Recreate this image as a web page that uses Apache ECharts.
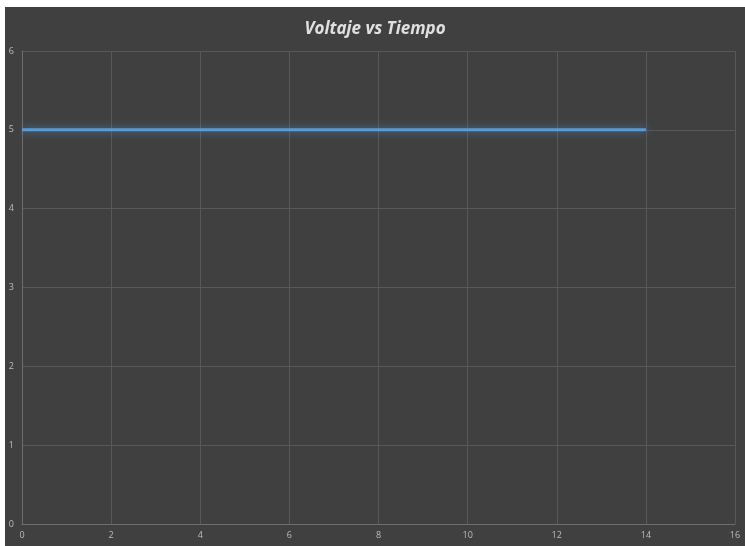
<!DOCTYPE html>
<html>
<head>
<meta charset="utf-8">
<script src="https://cdn.jsdelivr.net/npm/echarts@6/dist/echarts.min.js"></script>
<style>
  html, body { margin: 0; padding: 0; background: #ffffff; }
  #chart { position: absolute; left: 5px; top: 7px; width: 740px; height: 539px; }
</style>
</head>
<body>
<div id="chart"></div>
<script>
// Time samples (s) and measured voltage (V)
const tiempo = [0, 1, 2, 3, 4, 5, 6, 7, 8, 9, 10, 11, 12, 13, 14];
const voltaje = [5, 5, 5, 5, 5, 5, 5, 5, 5, 5, 5, 5, 5, 5, 5];

const chart = echarts.init(document.getElementById('chart'));
const labelStyle = { color: '#bdbdbd', fontSize: 9, fontFamily: 'Open Sans, sans-serif' };

chart.setOption({
  backgroundColor: '#404040',
  animation: false,
  title: {
    text: 'Voltaje vs Tiempo',
    left: 'center',
    top: 9,
    textStyle: {
      color: '#e0e0e0',
      fontSize: 17,
      fontStyle: 'italic',
      fontWeight: 'bold',
      fontFamily: 'Open Sans, sans-serif'
    }
  },
  grid: { left: 17, right: 10, top: 44, bottom: 22 },
  xAxis: {
    type: 'value',
    min: 0, max: 16, interval: 2,
    axisLine: { show: true, lineStyle: { color: '#6e6e6e', width: 1 } },
    axisTick: { show: false },
    axisLabel: Object.assign({ margin: 7 }, labelStyle),
    splitLine: { show: true, lineStyle: { color: '#585858', width: 1 } }
  },
  yAxis: {
    type: 'value',
    min: 0, max: 6, interval: 1,
    axisLine: { show: true, lineStyle: { color: '#6e6e6e', width: 1 } },
    axisTick: { show: false },
    axisLabel: Object.assign({ margin: 8 }, labelStyle),
    splitLine: { show: true, lineStyle: { color: '#585858', width: 1 } }
  },
  series: [{
    type: 'line',
    data: tiempo.map((t, i) => [t, voltaje[i]]),
    showSymbol: false,
    lineStyle: {
      color: '#5b9bd5',
      width: 3,
      shadowColor: 'rgba(91,155,213,0.7)',
      shadowBlur: 8
    }
  }]
});
</script>
</body>
</html>
